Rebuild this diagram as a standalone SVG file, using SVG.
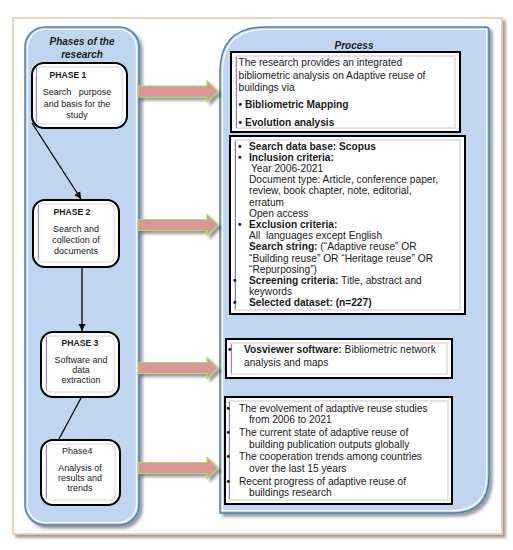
<svg xmlns="http://www.w3.org/2000/svg" width="513" height="550" viewBox="0 0 513 550">
<style>
text{font-family:"Liberation Sans",Arial,sans-serif;fill:#1a1a1a;white-space:pre}
.ttl{font-size:10px;font-weight:bold;font-style:italic;text-anchor:middle}
.ph{font-size:9px;text-anchor:middle}
.phb{font-size:8.6px;font-weight:bold;text-anchor:middle}
.t{font-size:10.2px}
.b{font-weight:bold}
.panel{fill:#c0d5f0;stroke:#4a7ebb;stroke-width:1.5}
.pin{fill:none;stroke:#ffffff;stroke-width:1.2}
.pbox{fill:#fff;stroke:#000;stroke-width:2}
.pinner{fill:none;stroke:#d8d8d8;stroke-width:1}
.purple{stroke:#b07cc0;stroke-width:1}
.tbox{fill:#fff;stroke:#000;stroke-width:2}
.tin{fill:none;stroke:#c8c8c8;stroke-width:1}
.bar{fill:#d99694;stroke:#a8d870;stroke-width:1.2}
.link{stroke:#000;stroke-width:1.3;fill:none}
</style>
<defs>
<filter id="sh" x="-10%" y="-10%" width="130%" height="130%">
<feGaussianBlur in="SourceAlpha" stdDeviation="1.5"/>
<feOffset dx="2.5" dy="2.5" result="o"/>
<feComponentTransfer><feFuncA type="linear" slope="0.4"/></feComponentTransfer>
<feMerge><feMergeNode/><feMergeNode in="SourceGraphic"/></feMerge>
</filter>
<marker id="ah" markerWidth="8" markerHeight="8" refX="7" refY="4" orient="auto" markerUnits="userSpaceOnUse">
<path d="M0,0.5 L7,4 L0,7.5 Z" fill="#000"/>
</marker>
</defs>

<g id="frame">
<rect x="13" y="18" width="489" height="516" fill="#fff" stroke="#f0c4a4" stroke-width="1.5" filter="url(#sh)"/>
</g>

<g id="phases-panel">
<rect class="panel" x="25" y="27" width="114" height="498" rx="20" ry="20" filter="url(#sh)"/>
<rect class="pin" x="27.5" y="29.5" width="109" height="493" rx="18" ry="18"/>
<text class="ttl" x="82" y="45">Phases of the</text>
<text class="ttl" x="82" y="58">research</text>
</g>

<g id="process-panel">
<path class="panel" d="M220,513 L220,72 Q220,27 265,27 L486,27 Q489,27 489,30 L489,476 Q489,513 452,513 Z" filter="url(#sh)"/>
<path class="pin" d="M222.5,510.5 L222.5,72 Q222.5,29.5 265,29.5 L486.5,29.5 L486.5,476 Q486.5,510.5 452,510.5 Z"/>
<text class="ttl" x="354" y="49">Process</text>
</g>

<g id="phase1">
<rect class="pbox" x="32" y="63" width="95" height="65" rx="12" ry="12"/>
<rect class="pinner" x="36" y="67" width="86" height="57" rx="4"/>
<line class="purple" x1="36.5" y1="68" x2="36.5" y2="122"/>
<text class="phb" x="68" y="78">PHASE 1</text>
<text class="ph" x="77" y="95">Search   purpose</text>
<text class="ph" x="77" y="106.5">and basis for the</text>
<text class="ph" x="77" y="117.5">study</text>
</g>

<g id="phase2">
<rect class="pbox" x="33" y="200" width="86" height="67" rx="12" ry="12"/>
<rect class="pinner" x="38" y="204" width="76" height="58" rx="4"/>
<line class="purple" x1="38.5" y1="205" x2="38.5" y2="260"/>
<text class="phb" x="72" y="215">PHASE 2</text>
<text class="ph" x="76" y="232">Search and</text>
<text class="ph" x="76" y="243">collection of</text>
<text class="ph" x="76" y="253.5">documents</text>
</g>

<g id="phase3">
<rect class="pbox" x="41" y="332" width="78" height="65" rx="12" ry="12"/>
<rect class="pinner" x="46" y="336" width="68" height="56" rx="4"/>
<line class="purple" x1="46.5" y1="337" x2="46.5" y2="390"/>
<text class="phb" x="80" y="346">PHASE 3</text>
<text class="ph" x="81" y="363">Software and</text>
<text class="ph" x="81" y="373">data</text>
<text class="ph" x="81" y="382.5">extraction</text>
</g>

<g id="phase4">
<rect class="pbox" x="41" y="440" width="79" height="65" rx="12" ry="12"/>
<rect class="pinner" x="46" y="444" width="69" height="56" rx="4"/>
<line class="purple" x1="46.5" y1="445" x2="46.5" y2="498"/>
<text class="ph" x="62" y="454" style="text-anchor:start">Phase4</text>
<text class="ph" x="80" y="470.5">Analysis of</text>
<text class="ph" x="80" y="480.5">results and</text>
<text class="ph" x="80" y="490.5">trends</text>
</g>

<g id="box1">
<rect class="tbox" x="231" y="52" width="229" height="80"/>
<rect class="tin" x="236" y="56" width="219" height="72"/>
<line class="purple" x1="236.5" y1="57" x2="236.5" y2="128" style="stroke:#a07cb0"/>
<text class="t" x="238.5" y="66">The research provides an integrated</text>
<text class="t" x="238.5" y="78.5">bibliometric analysis on Adaptive reuse of</text>
<text class="t" x="238.5" y="91">buildings via</text>
<text class="t b" x="238.5" y="108">• Bibliometric Mapping</text>
<text class="t b" x="238.5" y="126">• Evolution analysis</text>
</g>

<g id="box2">
<rect class="tbox" x="230" y="136" width="235" height="178"/>
<rect class="tin" x="235" y="140" width="225" height="170"/>
<line x1="235.5" y1="141" x2="235.5" y2="309" stroke="#808080" stroke-width="1"/>
<text class="t b" x="238" y="149.5">•</text><text class="t b" x="249" y="149.5">Search data base: Scopus</text>
<text class="t b" x="238" y="160.7">•</text><text class="t b" x="249" y="160.7">Inclusion criteria:</text>
<text class="t" x="251" y="171.9">Year 2006-2021</text>
<text class="t" x="249" y="183.1">Document type: Article, conference paper,</text>
<text class="t" x="249" y="194.3">review, book chapter, note, editorial,</text>
<text class="t" x="249" y="205.5">erratum</text>
<text class="t" x="249" y="216.7">Open access</text>
<text class="t b" x="238" y="227.9">•</text><text class="t b" x="249" y="227.9">Exclusion criteria:</text>
<text class="t" x="249" y="239.1">All  languages except English</text>
<text class="t" x="249" y="250.3"><tspan class="b">Search string:</tspan> (“Adaptive reuse” OR</text>
<text class="t" x="249" y="261.5">“Building reuse” OR “Heritage reuse” OR</text>
<text class="t" x="249" y="272.7">“Repurposing”)</text>
<text class="t b" x="233" y="283.9">•</text><text class="t" x="249" y="283.9"><tspan class="b">Screening criteria:</tspan> Title, abstract and</text>
<text class="t" x="249" y="295.1">keywords</text>
<text class="t b" x="233" y="306.3">•</text><text class="t b" x="249" y="306.3">Selected dataset: (n=227)</text>
</g>

<g id="box3">
<rect class="tbox" x="226" y="339" width="226" height="39"/>
<rect class="tin" x="231" y="343" width="216" height="31"/>
<line class="purple" x1="231.5" y1="344" x2="231.5" y2="373"/>
<text class="t b" x="228" y="352.5">•</text>
<text class="t" x="244" y="352.5"><tspan class="b">Vosviewer software:</tspan> Bibliometric network</text>
<text class="t" x="244" y="365.5">analysis and maps</text>
</g>

<g id="box4">
<rect class="tbox" x="225" y="397" width="227" height="107"/>
<rect class="tin" x="229" y="401" width="219" height="99"/>
<line class="purple" x1="229.5" y1="402" x2="229.5" y2="499"/>
<text class="t b" x="226.5" y="411.5">•</text><text class="t" x="239" y="411.5">The evolvement of adaptive reuse studies</text>
<text class="t" x="249" y="423">from 2006 to 2021</text>
<text class="t b" x="226.5" y="435.5">•</text><text class="t" x="239" y="435.5">The current state of adaptive reuse of</text>
<text class="t" x="249" y="447.5">building publication outputs globally</text>
<text class="t b" x="226.5" y="460">•</text><text class="t" x="239" y="460">The cooperation trends among countries</text>
<text class="t" x="249" y="472">over the last 15 years</text>
<text class="t b" x="226.5" y="484.5">•</text><text class="t" x="239" y="484.5">Recent progress of adaptive reuse of</text>
<text class="t" x="249" y="496">buildings research</text>
</g>

<g id="connectors">
<line class="link" x1="32" y1="123" x2="81" y2="199" marker-end="url(#ah)"/>
<line class="link" x1="82" y1="267" x2="82" y2="331" marker-end="url(#ah)"/>
<line class="link" x1="81" y1="398" x2="59" y2="439"/>
<g filter="url(#sh)">
<path class="bar" d="M138,86 L207,86 L207,81 L218,91.5 L207,102 L207,97 L138,97 Z"/>
<path class="bar" d="M138,219.5 L207,219.5 L207,214.5 L218,225 L207,235.5 L207,230.5 L138,230.5 Z"/>
<path class="bar" d="M138,362.5 L207,362.5 L207,357.5 L218,368 L207,378.5 L207,373.5 L138,373.5 Z"/>
<path class="bar" d="M138,462.5 L207,462.5 L207,457.5 L218,468 L207,478.5 L207,473.5 L138,473.5 Z"/>
</g>
</g>
</svg>
